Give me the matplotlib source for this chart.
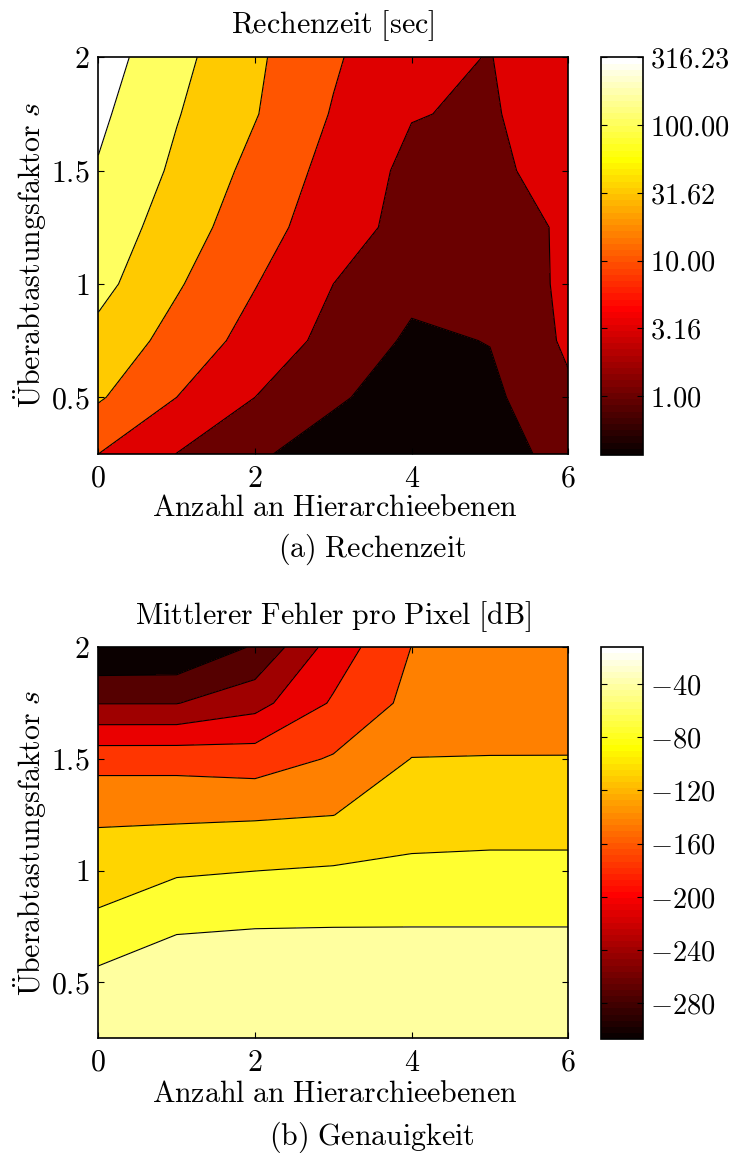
import numpy as np
import matplotlib
matplotlib.use("Agg")
import matplotlib.pyplot as plt
from matplotlib.colors import ListedColormap, Normalize
from matplotlib.cm import ScalarMappable

plt.rcParams["mathtext.fontset"] = "cm"
plt.rcParams["font.family"] = "serif"
plt.rcParams["font.serif"] = ["cmr10"]
plt.rcParams["axes.formatter.use_mathtext"] = True
plt.rcParams["contour.negative_linestyle"] = "solid"

# Grid: number of hierarchy levels (x) and oversampling factor s (y)
hierarchy_levels = [0, 1, 2, 3, 4, 5, 6]
oversampling = [0.25, 0.5, 0.75, 1.0, 1.25, 1.5, 1.75, 2.0]

# Computation time, log10(seconds); rows follow `oversampling`, columns `hierarchy_levels`
runtime_log10 = [
    [1.000, 0.492, 0.093, -0.306, -0.434, -0.200, 0.164],
    [1.556, 1.000, 0.500, 0.093, -0.313, -0.110, 0.413],
    [1.844, 1.323, 0.814, 0.346, -0.081, 0.014, 0.586],
    [2.156, 1.552, 1.021, 0.500, 0.124, 0.200, 0.590],
    [2.311, 1.756, 1.200, 0.737, 0.325, 0.300, 0.565],
    [2.464, 1.912, 1.357, 0.835, 0.376, 0.400, 0.694],
    [2.597, 2.028, 1.528, 0.964, 0.523, 0.438, 0.851],
    [2.730, 2.148, 1.583, 1.066, 0.585, 0.490, 0.740],
]
runtime_levels = [0.0, 0.5, 1.0, 1.5, 2.0, 2.5]
runtime_clim = (-0.434, 2.5)
runtime_ticks = [0.0, 0.5, 1.0, 1.5, 2.0, 2.5]
runtime_ticklabels = ["1.00", "3.16", "10.00", "31.62", "100.00", "316.23"]

# Mean error per pixel in dB
error_db = [
    [-12.5, -13.0, -13.5, -14.0, -14.0, -14.0, -14.0],
    [-32.5, -25.0, -28.0, -28.0, -28.0, -28.0, -28.0],
    [-68.0, -46.0, -43.6, -43.2, -43.1, -43.1, -43.1],
    [-92.0, -80.2, -76.2, -72.7, -69.8, -68.3, -68.3],
    [-114.0, -114.6, -112.9, -109.4, -90.0, -89.1, -89.1],
    [-153.8, -153.5, -157.8, -139.1, -108.3, -107.9, -107.9],
    [-242.0, -242.0, -219.5, -171.0, -133.1, -125.0, -124.0],
    [-306.8, -305.0, -270.3, -193.2, -141.5, -132.0, -130.0],
]
error_levels = [-274, -241, -208, -175, -142, -109, -76, -43]
error_ticks = [-280, -240, -200, -160, -120, -80, -40]

x_ticks = [0, 2, 4, 6]
s_ticks = [0.5, 1.0, 1.5, 2.0]

FIG_W, FIG_H = 729, 1153
FS = 21.5
CB_FS = 20.5


def matlab_hot(m=64):
    n = int(3 * m / 8)
    r = np.concatenate([np.arange(1, n + 1) / n, np.ones(m - n)])
    g = np.concatenate([np.zeros(n), np.arange(1, n + 1) / n, np.ones(m - 2 * n)])
    b = np.concatenate([np.zeros(2 * n), np.arange(1, m - 2 * n + 1) / (m - 2 * n)])
    return ListedColormap(np.column_stack([r, g, b]))


CMAP = matlab_hot(64)


def band_color(v, vmin, vmax):
    m = CMAP.N
    idx = int(np.floor((v - vmin) / (vmax - vmin) * m))
    idx = min(max(idx, 0), m - 1)
    return CMAP(idx)


def px_box(left, top, right, bottom):
    return [left / FIG_W, 1 - bottom / FIG_H, (right - left) / FIG_W, (bottom - top) / FIG_H]


def mt(s):
    return "$" + s + "$"


def draw_panel(fig, data, levels, clim, ax_box, cb_box, cticks, cticklabels):
    z = np.array(data, dtype=float)
    x = np.array(hierarchy_levels, dtype=float)
    y = np.array(oversampling, dtype=float)
    vmin, vmax = clim
    bounds = [min(z.min(), vmin) - 1.0] + list(levels) + [max(z.max(), vmax) + 1.0]
    colors = [band_color(vmin, vmin, vmax)] + [band_color(v, vmin, vmax) for v in levels]

    ax = fig.add_axes(ax_box)
    ax.contourf(x, y, z, levels=bounds, colors=colors, antialiased=False)
    ax.contour(x, y, z, levels=levels, colors="k", linewidths=0.8, linestyles="solid")
    ax.set_xlim(0, 6)
    ax.set_ylim(0.25, 2.0)
    ax.set_xticks(x_ticks)
    ax.set_xticklabels([mt(str(t)) for t in x_ticks])
    ax.set_yticks(s_ticks)
    ax.set_yticklabels([mt("%g" % t) for t in s_ticks])
    ax.tick_params(direction="in", top=True, right=True, length=4, width=0.8,
                   labelsize=FS, pad=6)
    ax.tick_params(axis="x", pad=8)
    for sp in ax.spines.values():
        sp.set_linewidth(1.2)

    cax = fig.add_axes(cb_box)
    sm = ScalarMappable(norm=Normalize(vmin, vmax), cmap=CMAP)
    cb = fig.colorbar(sm, cax=cax)
    cb.set_ticks(cticks)
    cb.set_ticklabels(cticklabels)
    cax.tick_params(direction="in", left=True, right=True, length=4, width=0.8,
                    labelsize=CB_FS, pad=5)
    cb.outline.set_linewidth(1.2)
    return ax


fig = plt.figure(figsize=(FIG_W / 100, FIG_H / 100), dpi=100)

# (a) computation time
draw_panel(fig, runtime_log10, runtime_levels, runtime_clim,
           px_box(98.3, 57.3, 568.3, 454.0), px_box(600.7, 57.3, 642.7, 455.0),
           runtime_ticks, [mt(l) for l in runtime_ticklabels])

# (b) accuracy
err = np.array(error_db)
draw_panel(fig, error_db, error_levels, (err.min(), err.max()),
           px_box(98.3, 647.3, 568.3, 1038.3), px_box(600.7, 647.3, 642.7, 1039.0),
           error_ticks, [mt(str(t)) for t in error_ticks])


def ftext(xp, yp, s, **kw):
    fig.text(xp / FIG_W, 1 - yp / FIG_H, s, ha="center", va="center", **kw)


ylabel = r"$\mathrm{\ddot{U}berabtastungsfaktor}\ s$"

ftext(333, 26, r"$\mathrm{Rechenzeit\ [sec]}$", fontsize=FS)
ftext(335, 508, r"$\mathrm{Anzahl\ an\ Hierarchieebenen}$", fontsize=FS)
ftext(372, 549, r"$\mathrm{(a)\ Rechenzeit}$", fontsize=FS)
ftext(30, 255, ylabel, fontsize=FS, rotation=90)

ftext(333, 617, r"$\mathrm{Mittlerer\ Fehler\ pro\ Pixel\ [dB]}$", fontsize=FS)
ftext(335, 1094, r"$\mathrm{Anzahl\ an\ Hierarchieebenen}$", fontsize=FS)
ftext(372, 1137, r"$\mathrm{(b)\ Genauigkeit}$", fontsize=FS)
ftext(30, 843, ylabel, fontsize=FS, rotation=90)

fig.savefig("out.png", dpi=100)
